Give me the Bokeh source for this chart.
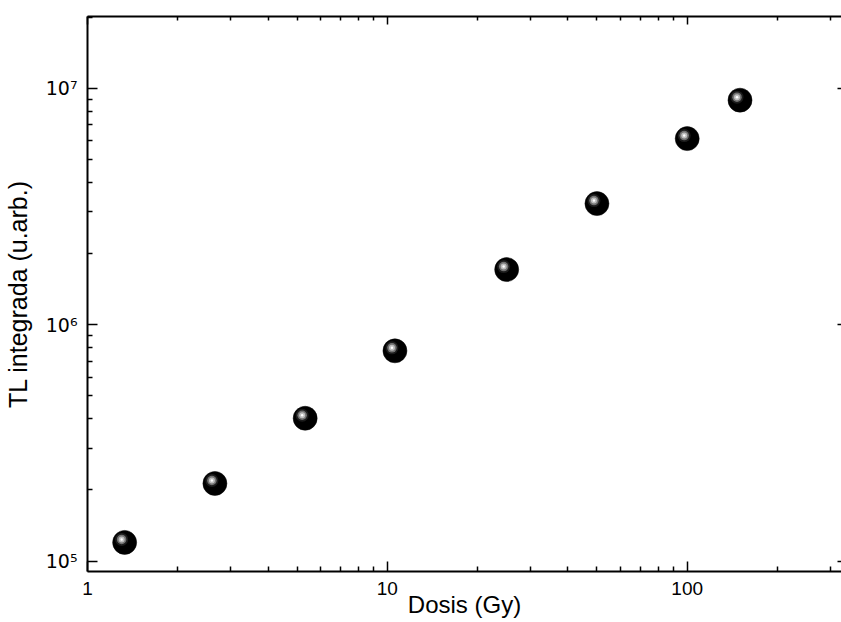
import numpy as np
from bokeh.plotting import figure
from bokeh.models import LogAxis, Range1d, FixedTicker, ColumnDataSource
from bokeh.embed import file_html
from bokeh.resources import INLINE

# data
dose = [1.33, 2.66, 5.32, 10.6, 25, 50, 100, 150]
tl = [1.20e5, 2.13e5, 4.02e5, 7.75e5, 1.71e6, 3.25e6, 6.12e6, 8.9e6]

x_ticks = [1, 10, 100]
y_ticks = [1e5, 1e6, 1e7]
y_tick_labels = {1e5: "10⁵", 1e6: "10⁶", 1e7: "10⁷"}

FONT = "Liberation Sans"

p = figure(width=841, height=622, x_axis_type="log", y_axis_type="log",
           x_range=Range1d(1, 327), y_range=Range1d(9.04e4, 2.01e7),
           output_backend="svg", toolbar_location=None,
           min_border_left=87, min_border_right=0, min_border_top=16, min_border_bottom=51)
p.grid.visible = False
p.outline_line_color = None
p.background_fill_color = "white"
p.border_fill_color = "white"

def style(ax, labels=True):
    ax.axis_line_width = 2
    ax.axis_line_color = "black"
    ax.major_tick_in = 10
    ax.major_tick_out = 0
    ax.minor_tick_in = 5
    ax.minor_tick_out = 0
    ax.major_tick_line_width = 1.5
    ax.minor_tick_line_width = 1.5
    ax.major_tick_line_color = "black"
    ax.minor_tick_line_color = "black"
    ax.major_label_text_font = FONT
    ax.major_label_text_font_size = "19px"
    ax.major_label_text_color = "black"
    ax.axis_label_text_font = FONT
    ax.axis_label_text_font_size = "24px"
    ax.axis_label_text_font_style = "normal"
    ax.axis_label_text_color = "black"
    if not labels:
        ax.major_label_text_font_size = "0px"
        ax.major_label_text_alpha = 0

xa = p.xaxis[0]
ya = p.yaxis[0]
style(xa)
style(ya)
xa.ticker = FixedTicker(ticks=x_ticks, minor_ticks=[v * m for v in [1, 10, 100] for m in range(2, 10)])
ya.ticker = FixedTicker(ticks=y_ticks, minor_ticks=[v * m for v in [1e4, 1e5, 1e6, 1e7] for m in range(2, 10)])
xa.major_label_overrides = {1: "1", 10: "10", 100: "100"}
ya.major_label_overrides = y_tick_labels
ya.major_label_text_font = "DejaVu Sans"
xa.axis_label = "Dosis (Gy)"
ya.axis_label = "TL integrada (u.arb.)"
ya.axis_label_text_font_size = "25px"
xa.major_label_standoff = 10
xa.axis_label_standoff = -7
ya.major_label_standoff = 10
ya.axis_label_standoff = 11

top = LogAxis(ticker=FixedTicker(ticks=x_ticks, minor_ticks=[v * m for v in [1, 10, 100] for m in range(2, 10)]))
style(top, labels=False)
top.major_tick_in = 8
top.minor_tick_in = 4
p.add_layout(top, "above")

right = LogAxis(ticker=FixedTicker(ticks=y_ticks, minor_ticks=[]))
style(right, labels=False)
right.axis_line_color = None
right.major_tick_in = 4
p.add_layout(right, "right")

# sphere markers
dose_a = np.array(dose)
tl_a = np.array(tl)
src = ColumnDataSource(dict(x=dose_a, y=tl_a))
fx = 10 ** (-3 / 300.0)
fy = 10 ** (3 / 236.5)
hl = ColumnDataSource(dict(x=dose_a * fx, y=tl_a * fy))

p.scatter("x", "y", source=src, size=24, marker="circle", fill_color="black", line_color="black", line_width=0.5)
p.scatter("x", "y", source=hl, size=13, marker="circle", fill_color="#1c1c1c", line_color=None)
p.scatter("x", "y", source=hl, size=9.5, marker="circle", fill_color="#727272", line_color=None)
p.scatter("x", "y", source=hl, size=6, marker="circle", fill_color="#bdbdbd", line_color=None)
p.scatter("x", "y", source=hl, size=2.5, marker="circle", fill_color="white", line_color=None)

open("out.html", "w").write(file_html(p, INLINE))
